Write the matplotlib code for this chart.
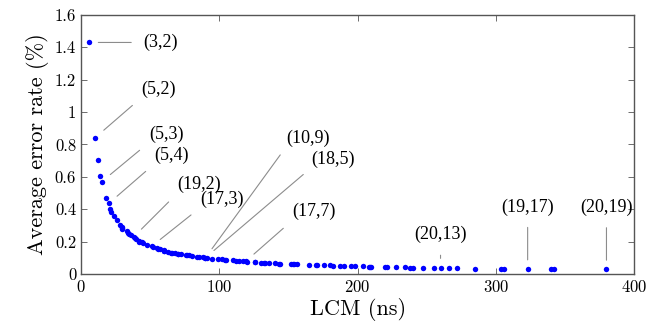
import numpy as np
import matplotlib
matplotlib.use("Agg")
import matplotlib.pyplot as plt
from matplotlib.ticker import FuncFormatter

plt.rcParams['font.family'] = ['cmr10', 'DejaVu Serif']
plt.rcParams['mathtext.fontset'] = 'cm'
plt.rcParams['axes.formatter.use_mathtext'] = True

# LCM (ns) of each coprime pair and its average error rate (%)
lcm_ns = [6, 10, 12, 14, 15, 18, 20, 21, 22, 24, 26, 28, 30, 30, 30, 33, 34, 35, 36,
          38, 39, 40, 42, 42, 44, 45, 48, 51, 52, 55, 56, 57, 60, 60, 60, 63, 65, 66,
          68, 70, 70, 72, 76, 77, 78, 80, 84, 85, 88, 90, 90, 91, 95, 99, 102, 104,
          105, 110, 112, 114, 117, 119, 120, 126, 126, 130, 132, 133, 136, 140, 143,
          144, 152, 153, 154, 156, 165, 170, 171, 176, 180, 182, 187, 190, 195, 198,
          204, 208, 209, 210, 220, 221, 228, 234, 238, 240, 247, 255, 260, 266, 272,
          285, 304, 306, 323, 340, 342, 380]
err_rate = [1.43, 0.84, 0.705, 0.605, 0.57, 0.47, 0.435, 0.40, 0.385, 0.355, 0.335,
            0.305, 0.29, 0.285, 0.28, 0.262, 0.255, 0.245, 0.24, 0.228, 0.222, 0.215,
            0.205, 0.20, 0.196, 0.19, 0.18, 0.17, 0.166, 0.158, 0.155, 0.152, 0.145,
            0.143, 0.14, 0.136, 0.132, 0.13, 0.127, 0.123, 0.121, 0.12, 0.117, 0.116,
            0.114, 0.111, 0.106, 0.105, 0.102, 0.10, 0.098, 0.098, 0.095, 0.091, 0.089,
            0.087, 0.086, 0.083, 0.081, 0.08, 0.078, 0.077, 0.076, 0.073, 0.072, 0.07,
            0.069, 0.068, 0.067, 0.065, 0.064, 0.063, 0.061, 0.06, 0.06, 0.059, 0.057,
            0.056, 0.055, 0.053, 0.052, 0.051, 0.05, 0.049, 0.048, 0.047, 0.046, 0.045,
            0.045, 0.044, 0.042, 0.042, 0.041, 0.04, 0.039, 0.039, 0.038, 0.037, 0.036,
            0.035, 0.035, 0.033, 0.032, 0.032, 0.031, 0.03, 0.03, 0.029]

# labelled pairs: (label, lcm, error)
labels = ['(3,2)', '(5,2)', '(5,3)', '(5,4)', '(19,2)', '(17,3)', '(10,9)', '(18,5)',
          '(17,7)', '(20,13)', '(19,17)', '(20,19)']
label_x = [6, 10, 15, 20, 38, 51, 90, 90, 119, 260, 323, 380]
label_y = [1.43, 0.84, 0.57, 0.435, 0.228, 0.17, 0.10, 0.10, 0.077, 0.036, 0.031, 0.029]

# text offsets (points), attach point on text box, shrink at text / at point
offsets = [(51.6, 0), (46, 35.3), (46.3, 34.3), (45.6, 35), (47.2, 37.7), (50.8, 34.2),
           (73.9, 86.3), (91.9, 71.1), (49.3, 35.8), (0, 24.5), (0, 44.6), (0, 44.6)]
relpos = [(0, 0.5), (0, 0), (0, 0), (0, 0), (0, 0), (0, 0),
          (0, 0), (0, 0), (0, 0), (0.5, 0), (0.5, 0), (0.5, 0)]
shrinkA = [7, 6, 6, 6, 6, 6, 5, 5, 6, 7, 6.5, 6.5]
shrinkB = [6.5, 8.5, 8, 8, 8, 8, 8, 8, 8, 7, 6.5, 6.5]

fig = plt.figure(figsize=(6.64, 3.32), dpi=100)
ax = fig.add_axes([0.122, 0.175, 0.833, 0.78])

ax.plot(lcm_ns, err_rate, 'o', color='#0000ff', markersize=3.9, markeredgewidth=0)

for i, lab in enumerate(labels):
    ax.annotate(lab, xy=(label_x[i], label_y[i]), xytext=offsets[i],
                textcoords='offset points', ha='center', va='center', fontsize=13,
                family=['Liberation Serif', 'DejaVu Serif'],
                arrowprops=dict(arrowstyle='-', color='#8c8c8c', lw=0.8,
                                relpos=relpos[i], shrinkA=shrinkA[i], shrinkB=shrinkB[i]))

ax.set_xlim(0, 400)
ax.set_ylim(0, 1.6)
ax.set_xticks([0, 100, 200, 300, 400])
ax.set_yticks(np.arange(0, 1.61, 0.2))
ax.yaxis.set_major_formatter(FuncFormatter(lambda v, p: '%g' % round(v, 1)))
ax.tick_params(direction='in', top=True, right=True, length=4, width=0.6,
               color='#555555', labelsize=12)
for s in ax.spines.values():
    s.set_color('#555555')
    s.set_linewidth(1.0)
ax.set_xlabel('LCM (ns)', fontsize=16, labelpad=2)
ax.set_ylabel('Average error rate (%)', fontsize=16, labelpad=4)

fig.savefig('out.png', dpi=100)
